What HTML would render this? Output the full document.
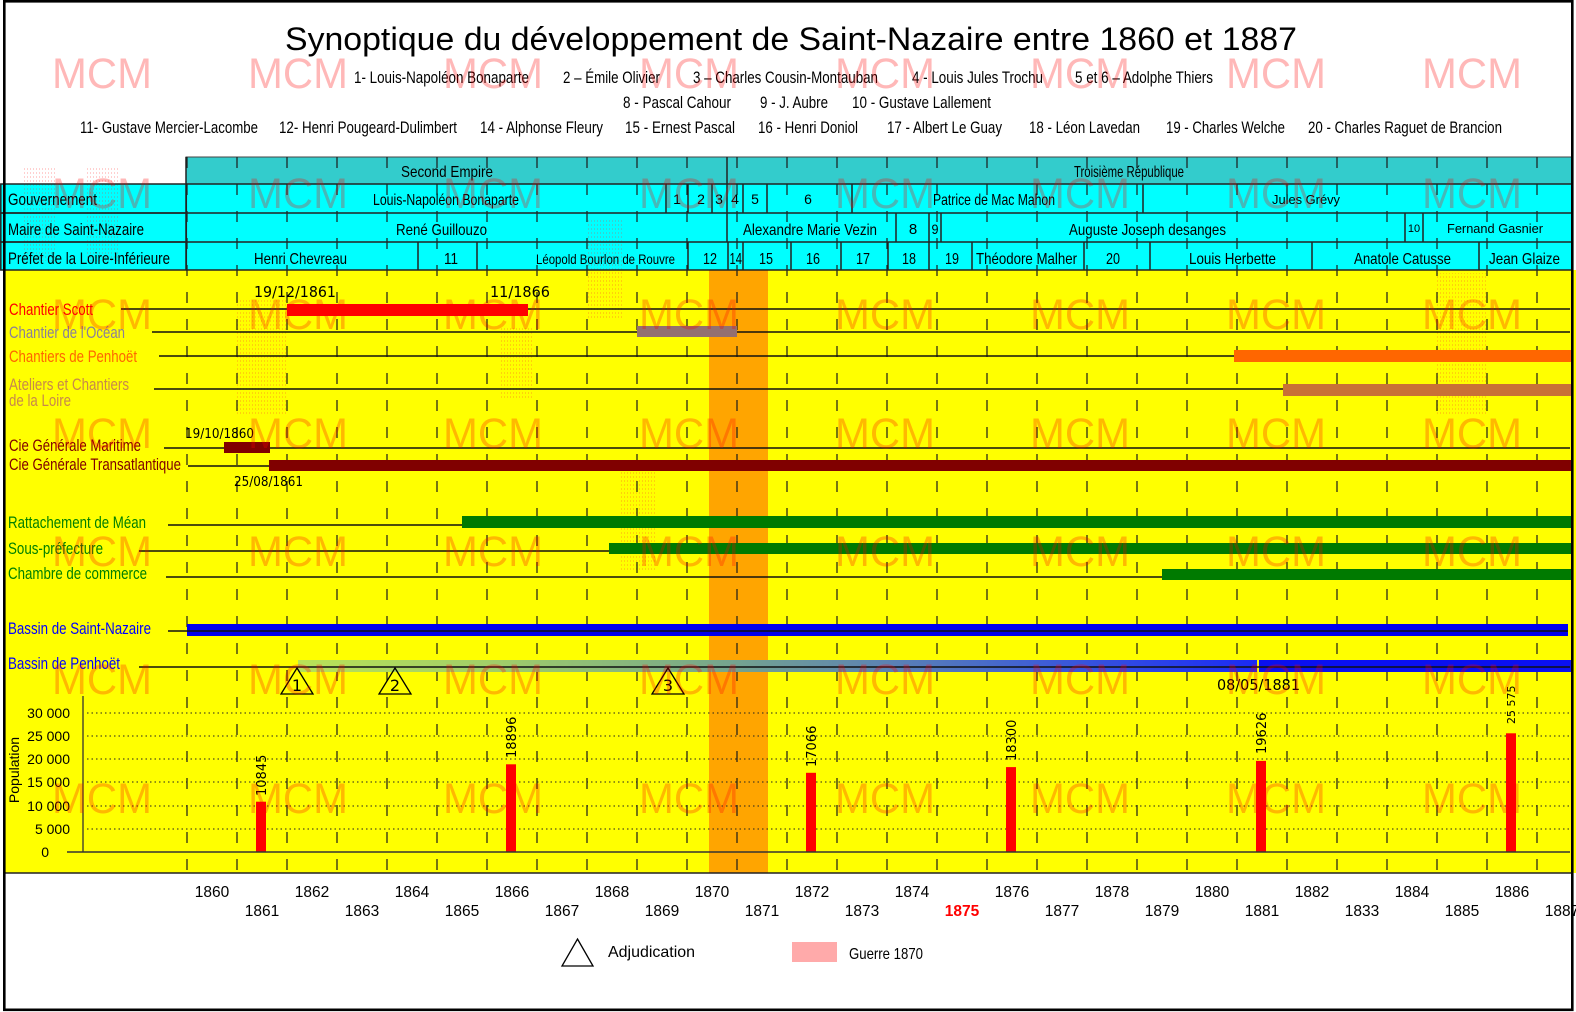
<!DOCTYPE html>
<html><head><meta charset="utf-8"><title>Synoptique Saint-Nazaire</title>
<style>html,body{margin:0;padding:0;background:#fff}svg{display:block}</style></head>
<body>
<svg xmlns="http://www.w3.org/2000/svg" width="1576" height="1012" viewBox="0 0 1576 1012" font-family="'Liberation Sans', Arial, sans-serif">
<defs>
  <pattern id="dots" width="3" height="4" patternUnits="userSpaceOnUse"><rect x="0" y="0" width="1" height="2" fill="#ff3030"/></pattern>
  <linearGradient id="gp" x1="298" y1="0" x2="1257" y2="0" gradientUnits="userSpaceOnUse">
    <stop offset="0" stop-color="#B9E257"/>
    <stop offset="0.2" stop-color="#A2CF68"/>
    <stop offset="0.42" stop-color="#7AAA88"/>
    <stop offset="0.6" stop-color="#5E86B0"/>
    <stop offset="0.8" stop-color="#3A58DA"/>
    <stop offset="1" stop-color="#1A2AF5"/>
  </linearGradient>
</defs>
<rect width="1576" height="1012" fill="#fff"/>

<rect x="5" y="270" width="1571" height="603" fill="#FFFF00"/>
<rect x="709" y="269" width="59" height="604" fill="#FFA500"/>

<rect x="186" y="157" width="1386" height="27" fill="#33CCCC" stroke="#444" stroke-width="1"/>
<rect x="186" y="184" width="1386" height="86" fill="#00FFFF"/>
<rect x="0.5" y="184" width="186" height="86" fill="#00FFFF"/>

<g fill="url(#dots)" opacity="0.22">
  <rect x="23" y="166" width="34" height="95"/>
  <rect x="87" y="166" width="33" height="95"/>
  <rect x="236" y="300" width="50" height="116"/>
  <rect x="499" y="327" width="33" height="72"/>
  <rect x="588" y="218" width="34" height="100"/>
  <rect x="620" y="470" width="35" height="100"/>
  <rect x="1435" y="273" width="52" height="142"/>
</g>

<path d="M187 157V873M237 157V873M287 157V873M337 157V873M387 157V873M437 157V873M487 157V873M537 157V873M587 157V873M637 157V873M687 157V873M737 157V873M787 157V873M837 157V873M887 157V873M937 157V873M987 157V873M1037 157V873M1087 157V873M1137 157V873M1187 157V873M1237 157V873M1287 157V873M1337 157V873M1387 157V873M1437 157V873M1487 157V873M1537 157V873" stroke="#1a1a1a" stroke-width="1.2" stroke-dasharray="11 16" fill="none"/>

<g stroke="#222" stroke-width="1.5" fill="none">
  <rect x="0.8" y="184" width="185.5" height="29"/>
  <rect x="0.8" y="213" width="185.5" height="29"/>
  <rect x="0.8" y="242" width="185.5" height="28"/>
  <path d="M186 184H1572M186 213H1572M186 242H1572M186 270H1572M1572 157V270M186 157V270"/>
  <path d="M727 157V242"/>
  <path d="M666 184V213M688 184V213M712 184V213M743 184V213M767 184V213M852 184V213M1143 184V213"/>
  <path d="M896 213V242M929 213V242M941 213V242M1405 213V242M1423 213V242"/>
  <path d="M418 242V270M477 242V270M688 242V270M728 242V270M743 242V270M791 242V270M841 242V270M888 242V270M929 242V270M972 242V270M1084 242V270M1150 242V270M1312 242V270M1479 242V270"/>
</g>

<g font-size="17" fill="#000">
  <text x="401" y="177" textLength="92" lengthAdjust="spacingAndGlyphs" font-size="16">Second Empire</text>
  <text x="1074" y="177" textLength="110" lengthAdjust="spacingAndGlyphs" font-size="16">Troisième République</text>

  <text x="8" y="205" textLength="89" lengthAdjust="spacingAndGlyphs">Gouvernement</text>
  <text x="373" y="205" textLength="146" lengthAdjust="spacingAndGlyphs" font-size="16">Louis-Napoléon Bonaparte</text>
  <g text-anchor="middle" font-size="14">
    <text x="677" y="204">1</text><text x="701" y="204">2</text><text x="719" y="204">3</text>
    <text x="735" y="204">4</text><text x="755" y="204">5</text><text x="808" y="204">6</text>
  </g>
  <text x="933" y="205" textLength="122" lengthAdjust="spacingAndGlyphs" font-size="16">Patrice de Mac Mahon</text>
  <text x="1272" y="204" textLength="68" lengthAdjust="spacingAndGlyphs" font-size="13">Jules Grévy</text>

  <text x="8" y="235" textLength="136" lengthAdjust="spacingAndGlyphs">Maire de Saint-Nazaire</text>
  <text x="396" y="235" textLength="91" lengthAdjust="spacingAndGlyphs" font-size="16">René Guillouzo</text>
  <text x="743" y="235" textLength="134" lengthAdjust="spacingAndGlyphs" font-size="16">Alexandre Marie Vezin</text>
  <text x="913" y="234" text-anchor="middle" font-size="15">8</text>
  <text x="935" y="234" text-anchor="middle" font-size="14" textLength="7" lengthAdjust="spacingAndGlyphs">9</text>
  <text x="1069" y="235" textLength="157" lengthAdjust="spacingAndGlyphs" font-size="16">Auguste Joseph desanges</text>
  <text x="1414" y="232" text-anchor="middle" font-size="11">10</text>
  <text x="1447" y="233" textLength="96" lengthAdjust="spacingAndGlyphs" font-size="13">Fernand Gasnier</text>

  <text x="8" y="264" textLength="162" lengthAdjust="spacingAndGlyphs">Préfet de la Loire-Inférieure</text>
  <text x="254" y="264" textLength="93" lengthAdjust="spacingAndGlyphs" font-size="16">Henri Chevreau</text>
  <text x="444" y="264" font-size="16" textLength="14" lengthAdjust="spacingAndGlyphs">11</text>
  <text x="536" y="264" textLength="139" lengthAdjust="spacingAndGlyphs" font-size="14">Léopold Bourlon de Rouvre</text>
  <g font-size="16">
    <text x="703" y="264" textLength="14" lengthAdjust="spacingAndGlyphs">12</text>
    <text x="729.5" y="264" textLength="12.5" lengthAdjust="spacingAndGlyphs">14</text>
    <text x="759" y="264" textLength="14" lengthAdjust="spacingAndGlyphs">15</text>
    <text x="806" y="264" textLength="14" lengthAdjust="spacingAndGlyphs">16</text>
    <text x="856" y="264" textLength="14" lengthAdjust="spacingAndGlyphs">17</text>
    <text x="902" y="264" textLength="14" lengthAdjust="spacingAndGlyphs">18</text>
    <text x="945" y="264" textLength="14" lengthAdjust="spacingAndGlyphs">19</text>
    <text x="1106" y="264" textLength="14" lengthAdjust="spacingAndGlyphs">20</text>
  </g>
  <text x="976" y="264" textLength="101" lengthAdjust="spacingAndGlyphs" font-size="16">Théodore Malher</text>
  <text x="1189" y="264" textLength="87" lengthAdjust="spacingAndGlyphs" font-size="16">Louis Herbette</text>
  <text x="1354" y="264" textLength="97" lengthAdjust="spacingAndGlyphs" font-size="16">Anatole Catusse</text>
  <text x="1489" y="264" textLength="71" lengthAdjust="spacingAndGlyphs" font-size="16">Jean Glaize</text>
</g>

<g stroke="#111" stroke-width="1.4">
  <line x1="121" y1="309" x2="1570" y2="309"/>
  <line x1="152" y1="332" x2="1570" y2="332"/>
  <line x1="159" y1="356" x2="1570" y2="356"/>
  <line x1="154" y1="389" x2="1570" y2="389"/>
  <line x1="164" y1="448" x2="1570" y2="448"/>
  <line x1="188" y1="466" x2="1570" y2="466"/>
  <line x1="168" y1="525" x2="1570" y2="525"/>
  <line x1="139" y1="551" x2="1570" y2="551"/>
  <line x1="166" y1="577" x2="1570" y2="577"/>
</g>
<rect x="287" y="304" width="241" height="12" fill="#FF0000"/>
<rect x="637" y="326" width="100" height="11" fill="#947070"/>
<rect x="1234" y="350" width="338" height="12" fill="#FF6600"/>
<rect x="1283" y="384" width="289" height="12" fill="#C87137"/>
<rect x="224" y="442" width="46" height="11" fill="#800000"/>
<rect x="269" y="460" width="1303" height="11" fill="#800000"/>
<rect x="462" y="516" width="1110" height="12" fill="#007A00"/>
<rect x="609" y="543" width="963" height="11" fill="#007A00"/>
<rect x="1162" y="569" width="410" height="11" fill="#007A00"/>
<rect x="187" y="624" width="1381" height="12" fill="#0000EE"/>
<rect x="298" y="660" width="959" height="12" fill="url(#gp)"/>
<rect x="1259" y="660" width="313" height="12" fill="#0A10F0"/>
<g stroke="#111" stroke-width="1.4">
  <line x1="168" y1="631" x2="1568" y2="631"/>
  <line x1="139" y1="667" x2="1570" y2="667"/>
</g>

<g fill="none" stroke="#000" stroke-width="1.3">
  <path d="M297 668L313 694H281Z"/>
  <path d="M395 668L411 694H379Z"/>
  <path d="M668 668L684 694H652Z"/>
</g>
<g font-family="'DejaVu Sans', 'Liberation Sans', sans-serif" font-size="16" text-anchor="middle" fill="#000">
  <text x="297" y="691">1</text><text x="395" y="691">2</text><text x="668" y="691">3</text>
</g>

<g font-size="17">
  <text x="9" y="315" fill="#FF0000" textLength="84" lengthAdjust="spacingAndGlyphs">Chantier Scott</text>
  <text x="9" y="338" fill="#8A7F9A" textLength="116" lengthAdjust="spacingAndGlyphs">Chantier de l'Océan</text>
  <text x="9" y="362" fill="#FF6600" textLength="128" lengthAdjust="spacingAndGlyphs">Chantiers de Penhoët</text>
  <text x="9" y="390" fill="#C8884A" textLength="120" lengthAdjust="spacingAndGlyphs">Ateliers et Chantiers</text>
  <text x="9" y="406" fill="#C8884A" textLength="62" lengthAdjust="spacingAndGlyphs">de la Loire</text>
  <text x="9" y="451" fill="#800000" textLength="132" lengthAdjust="spacingAndGlyphs">Cie Générale Maritime</text>
  <text x="9" y="470" fill="#800000" textLength="172" lengthAdjust="spacingAndGlyphs">Cie Générale Transatlantique</text>
  <text x="8" y="528" fill="#008000" textLength="138" lengthAdjust="spacingAndGlyphs">Rattachement de Méan</text>
  <text x="8" y="554" fill="#008000" textLength="95" lengthAdjust="spacingAndGlyphs">Sous-préfecture</text>
  <text x="8" y="579" fill="#008000" textLength="139" lengthAdjust="spacingAndGlyphs">Chambre de commerce</text>
  <text x="8" y="634" fill="#0000FF" textLength="143" lengthAdjust="spacingAndGlyphs">Bassin de Saint-Nazaire</text>
  <text x="8" y="669" fill="#0000FF" textLength="112" lengthAdjust="spacingAndGlyphs">Bassin de Penhoët</text>
</g>

<g font-family="'DejaVu Sans', 'Liberation Sans', sans-serif" fill="#000">
  <text x="254" y="297" font-size="15" textLength="82" lengthAdjust="spacingAndGlyphs">19/12/1861</text>
  <text x="490" y="297" font-size="15" textLength="60" lengthAdjust="spacingAndGlyphs">11/1866</text>
  <text x="185" y="438" font-size="13" textLength="69" lengthAdjust="spacingAndGlyphs">19/10/1860</text>
  <text x="234" y="486" font-size="13" textLength="69" lengthAdjust="spacingAndGlyphs">25/08/1861</text>
  <text x="1217" y="690" font-size="15" textLength="83" lengthAdjust="spacingAndGlyphs">08/05/1881</text>
</g>

<g stroke="#222" stroke-width="1.1" stroke-dasharray="1.5 3">
  <line x1="87" y1="829" x2="1570" y2="829"/>
  <line x1="87" y1="806" x2="1570" y2="806"/>
  <line x1="87" y1="782" x2="1570" y2="782"/>
  <line x1="87" y1="759" x2="1570" y2="759"/>
  <line x1="87" y1="736" x2="1570" y2="736"/>
  <line x1="87" y1="713" x2="1570" y2="713"/>
</g>
<line x1="83" y1="696" x2="83" y2="852" stroke="#333" stroke-width="1.3"/>
<g font-size="14" fill="#000" text-anchor="end">
  <text x="70" y="718">30 000</text>
  <text x="70" y="741">25 000</text>
  <text x="70" y="764">20 000</text>
  <text x="70" y="787">15 000</text>
  <text x="70" y="811">10 000</text>
  <text x="70" y="834">5 000</text>
  <text x="49" y="857">0</text>
</g>
<text transform="translate(19,770) rotate(-90)" font-size="14" text-anchor="middle" fill="#000">Population</text>
<g fill="#FF0000">
  <rect x="256" y="801.7" width="10" height="50.3"/>
  <rect x="506" y="764.3" width="10" height="87.7"/>
  <rect x="806" y="772.8" width="10" height="79.2"/>
  <rect x="1006" y="767.1" width="10" height="84.9"/>
  <rect x="1256" y="760.9" width="10" height="91.1"/>
  <rect x="1506" y="733.3" width="10" height="118.7"/>
</g>
<line x1="67" y1="852" x2="1570" y2="852" stroke="#333" stroke-width="1.6"/>
<g font-family="'DejaVu Sans', 'Liberation Sans', sans-serif" font-size="13" fill="#000">
  <text transform="translate(266,796) rotate(-90)">10845</text>
  <text transform="translate(516,758) rotate(-90)">18896</text>
  <text transform="translate(816,767) rotate(-90)">17066</text>
  <text transform="translate(1016,761) rotate(-90)">18300</text>
  <text transform="translate(1266,754) rotate(-90)">19626</text>
  <text transform="translate(1515,724) rotate(-90)" font-size="11">25 575</text>
</g>
<line x1="5" y1="873" x2="1573" y2="873" stroke="#222" stroke-width="1.6"/>

<g font-size="15.5" fill="#000" text-anchor="middle">
  <text x="212" y="897">1860</text><text x="312" y="897">1862</text><text x="412" y="897">1864</text>
  <text x="512" y="897">1866</text><text x="612" y="897">1868</text><text x="712" y="897">1870</text>
  <text x="812" y="897">1872</text><text x="912" y="897">1874</text><text x="1012" y="897">1876</text>
  <text x="1112" y="897">1878</text><text x="1212" y="897">1880</text><text x="1312" y="897">1882</text>
  <text x="1412" y="897">1884</text><text x="1512" y="897">1886</text>
  <text x="262" y="916">1861</text><text x="362" y="916">1863</text><text x="462" y="916">1865</text>
  <text x="562" y="916">1867</text><text x="662" y="916">1869</text><text x="762" y="916">1871</text>
  <text x="862" y="916">1873</text><text x="962" y="916" fill="#FF0000" font-weight="bold">1875</text>
  <text x="1062" y="916">1877</text><text x="1162" y="916">1879</text><text x="1262" y="916">1881</text>
  <text x="1362" y="916">1833</text><text x="1462" y="916">1885</text><text x="1562" y="916">1887</text>
</g>

<path d="M577.5 939L593 966H562Z" fill="none" stroke="#000" stroke-width="1.3"/>
<text x="608" y="957" font-size="16" fill="#000" textLength="87" lengthAdjust="spacingAndGlyphs">Adjudication</text>
<rect x="792" y="942" width="45" height="20" fill="#FFAAAA"/>
<text x="849" y="959" font-size="16" fill="#000" textLength="74" lengthAdjust="spacingAndGlyphs">Guerre 1870</text>

<text x="285" y="50" font-size="32" fill="#000" textLength="1012" lengthAdjust="spacingAndGlyphs">Synoptique du développement de  Saint-Nazaire entre 1860 et 1887</text>
<g font-size="17" fill="#000">
  <text x="354" y="83" textLength="175" lengthAdjust="spacingAndGlyphs">1- Louis-Napoléon Bonaparte</text>
  <text x="563" y="83" textLength="97" lengthAdjust="spacingAndGlyphs">2 – Émile Olivier</text>
  <text x="693" y="83" textLength="185" lengthAdjust="spacingAndGlyphs">3 – Charles Cousin-Montauban</text>
  <text x="912" y="83" textLength="131" lengthAdjust="spacingAndGlyphs">4 - Louis Jules Trochu</text>
  <text x="1075" y="83" textLength="138" lengthAdjust="spacingAndGlyphs">5 et 6 – Adolphe Thiers</text>
  <text x="623" y="108" textLength="108" lengthAdjust="spacingAndGlyphs">8 - Pascal Cahour</text>
  <text x="760" y="108" textLength="68" lengthAdjust="spacingAndGlyphs">9 - J. Aubre</text>
  <text x="852" y="108" textLength="139" lengthAdjust="spacingAndGlyphs">10 - Gustave Lallement</text>
  <text x="80" y="133" textLength="178" lengthAdjust="spacingAndGlyphs">11- Gustave Mercier-Lacombe</text>
  <text x="279" y="133" textLength="178" lengthAdjust="spacingAndGlyphs">12- Henri Pougeard-Dulimbert</text>
  <text x="480" y="133" textLength="123" lengthAdjust="spacingAndGlyphs">14 - Alphonse Fleury</text>
  <text x="625" y="133" textLength="110" lengthAdjust="spacingAndGlyphs">15 - Ernest Pascal</text>
  <text x="758" y="133" textLength="100" lengthAdjust="spacingAndGlyphs">16 - Henri Doniol</text>
  <text x="887" y="133" textLength="115" lengthAdjust="spacingAndGlyphs">17 - Albert Le Guay</text>
  <text x="1029" y="133" textLength="111" lengthAdjust="spacingAndGlyphs">18 - Léon Lavedan</text>
  <text x="1166" y="133" textLength="119" lengthAdjust="spacingAndGlyphs">19 - Charles Welche</text>
  <text x="1308" y="133" textLength="194" lengthAdjust="spacingAndGlyphs">20 - Charles Raguet de Brancion</text>
</g>

<g font-size="43" fill="#FF0000" fill-opacity="0.28">
  <g id="wm">
    <text x="52" y="88" textLength="100" lengthAdjust="spacingAndGlyphs">MCM</text>
    <text x="248" y="88" textLength="100" lengthAdjust="spacingAndGlyphs">MCM</text>
    <text x="443" y="88" textLength="100" lengthAdjust="spacingAndGlyphs">MCM</text>
    <text x="639" y="88" textLength="100" lengthAdjust="spacingAndGlyphs">MCM</text>
    <text x="835" y="88" textLength="100" lengthAdjust="spacingAndGlyphs">MCM</text>
    <text x="1030" y="88" textLength="100" lengthAdjust="spacingAndGlyphs">MCM</text>
    <text x="1226" y="88" textLength="100" lengthAdjust="spacingAndGlyphs">MCM</text>
    <text x="1422" y="88" textLength="100" lengthAdjust="spacingAndGlyphs">MCM</text>
  </g>
  <use href="#wm" y="120"/>
  <use href="#wm" y="241"/>
  <use href="#wm" y="360"/>
  <use href="#wm" y="478"/>
  <use href="#wm" y="606"/>
  <use href="#wm" y="725"/>
</g>

<rect x="4.3" y="1.3" width="1568" height="1008.5" fill="none" stroke="#000" stroke-width="2.6"/>
</svg>
</body></html>
